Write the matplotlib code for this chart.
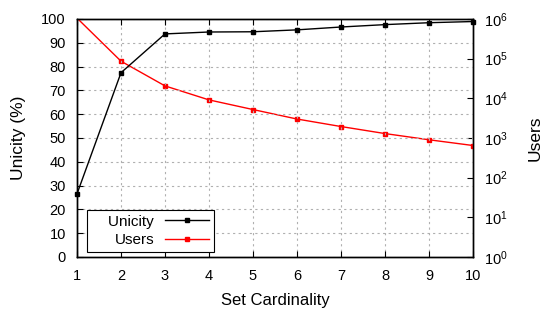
import matplotlib
matplotlib.use('Agg')
import matplotlib.pyplot as plt
from matplotlib.ticker import FixedLocator, NullLocator

plt.rcParams['font.family'] = ['Liberation Sans', 'DejaVu Sans']
plt.rcParams['font.size'] = 10.5

cardinality = [1, 2, 3, 4, 5, 6, 7, 8, 9, 10]
unicity = [26.5, 77.4, 93.7, 94.5, 94.6, 95.4, 96.6, 97.6, 98.4, 98.9]
users = [1050000, 86000, 20500, 9100, 5200, 3000, 1940, 1290, 900, 645]

fig = plt.figure(figsize=(5.43, 3.10), dpi=100)
ax = fig.add_axes([0.1418, 0.171, 0.7292, 0.768])
ax2 = ax.twinx()

l1, = ax.plot(cardinality, unicity, color='black', lw=1.0, marker='s', ms=3,
              label='Unicity', clip_on=False, zorder=5)
# first point lies above the top of the log axis, so it is cut off there
l2, = ax2.plot(cardinality, users, color='red', lw=1.0, marker='s', ms=3,
               markevery=list(range(1, len(users))), label='Users', zorder=5)

ax.set_xlim(1, 10)
ax.set_ylim(0, 100)
ax.set_xticks(cardinality)
ax.set_yticks(range(0, 101, 10))
ax.grid(True, color='#b0b0b0', linestyle=(0, (2, 3)), lw=0.8)
ax.tick_params(axis='y', direction='in', length=4, right=False, pad=8)
ax.tick_params(axis='x', direction='in', length=4, top=True, pad=9)
ax.set_xlabel('Set Cardinality', fontsize=12)
ax.set_ylabel('Unicity (%)', fontsize=12.5)
ax.xaxis.set_label_coords(0.5, -0.181)
ax.xaxis.label.set_va('center')
ax.yaxis.set_label_coords(-0.149, 0.5)
ax.yaxis.label.set_va('center')

ax2.set_yscale('log')
ax2.set_ylim(1, 1e6)
ax2.yaxis.set_major_locator(FixedLocator([1e0, 1e1, 1e2, 1e3, 1e4, 1e5, 1e6]))
ax2.yaxis.set_minor_locator(NullLocator())
ax2.tick_params(direction='in', length=4, pad=8)
ax2.set_ylabel('Users', fontsize=12.5)
ax2.yaxis.set_label_coords(1.157, 0.5)
ax2.yaxis.label.set_va('center')

ax.set_zorder(ax2.get_zorder() + 1)
ax.patch.set_visible(False)

for a in (ax, ax2):
    for s in a.spines.values():
        s.set_linewidth(1.0)

leg = ax.legend([l1, l2], ['    Unicity', 'Users'], loc='lower left',
                bbox_to_anchor=(0.0245, 0.021), markerfirst=False, fancybox=False,
                framealpha=1, edgecolor='black', borderpad=0.3, handlelength=2.9,
                labelspacing=0.3, borderaxespad=0, handletextpad=0.7, fontsize=11)
leg.get_frame().set_linewidth(0.8)
for t in leg.get_texts():
    t.set_ha('right')

fig.savefig('out.png', dpi=100)
